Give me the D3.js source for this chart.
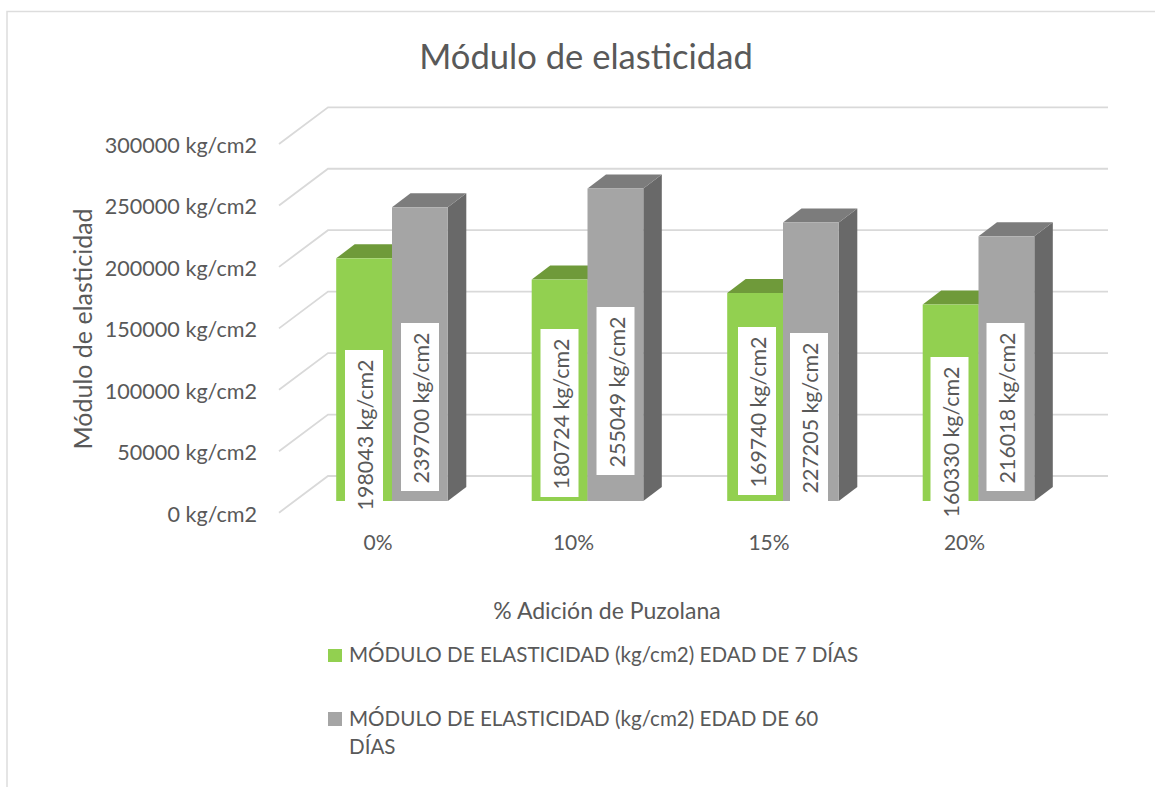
<!DOCTYPE html>
<html><head><meta charset="utf-8">
<script src="https://cdn.jsdelivr.net/npm/d3@7"></script>
<style>html,body{margin:0;padding:0;background:#fff}svg{display:block}text{font-family:Lato,"Open Sans",sans-serif}</style>
</head><body><div id="c"></div>
<script>
const categories = ["0%","10%","15%","20%"];
const seriesNames = ["MÓDULO DE ELASTICIDAD (kg/cm2) EDAD DE 7 DÍAS","MÓDULO DE ELASTICIDAD (kg/cm2) EDAD DE 60 DÍAS"];
const age7 = [198043,180724,169740,160330];
const age60 = [239700,255049,227205,216018];
const yTicks = [0,50000,100000,150000,200000,250000,300000];
// manual data-label box tops (layout, px)
const labelTop7 = [350,329,327,357];
const labelTop60 = [323,307,333,323];

const W=1155,H=787, textCol="#595959";
const svg=d3.select("#c").append("svg").attr("width",W).attr("height",H);

// chart frame
svg.append("path").attr("d","M7 787V11.5H1155").attr("fill","none").attr("stroke","#DDDDDD").attr("stroke-width",1.5);

const x=d3.scaleBand().domain(categories).range([294.25,1076.25]);
const barW=55.8;
const yBack=d3.scaleLinear().domain([0,300000]).range([476,107.3]);
const yWall=d3.scaleLinear().domain([0,300000]).range([512.7,144]);
const yBar=d3.scaleLinear().domain([0,300000]).range([501,133.4]);
const dxB=18.5, dyB=14;

// gridlines
const grid=svg.append("g").attr("fill","none").attr("stroke","#D9D9D9").attr("stroke-width",1.8);
yTicks.forEach(t=>{
  grid.append("path").attr("d",`M279 ${yWall(t)}L328 ${yBack(t)}H1108`);
});

// axis tick labels
const ax=svg.append("g").attr("transform","translate(257,1.5)").call(d3.axisLeft(yWall).tickValues(yTicks).tickSize(0).tickPadding(0).tickFormat(d=>d+" kg/cm2"));
ax.select(".domain").remove();
ax.selectAll("text").attr("fill",textCol).style("font-size","21.6px").style("font-family","Lato");

function bar(g,v,x0,front,top,side){
  const y=yBar(v), b=yBar(0), x1=x0+barW;
  g.append("path").attr("fill",side).attr("d",`M${x1} ${y}L${x1+dxB} ${y-dyB}V${b-dyB}L${x1} ${b}Z`);
  g.append("path").attr("fill",top).attr("d",`M${x0} ${y}L${x0+dxB} ${y-dyB}H${x1+dxB}L${x1} ${y}Z`);
  g.append("rect").attr("x",x0).attr("y",y).attr("width",barW).attr("height",b-y).attr("fill",front);
}
const bars=svg.append("g");
categories.forEach((c,i)=>{
  const g=bars.append("g"), m=x(c)+x.bandwidth()/2;
  bar(g,age7[i],m-barW,"#92D050","#6F9A3A","#6C9A38");
  bar(g,age60[i],m,"#A5A5A5","#7C7C7C","#696969");
});

// data labels
function label(v,cx,top){
  const g=svg.append("g");
  g.append("rect").attr("x",cx-19).attr("y",top).attr("width",38).attr("height",168).attr("fill","#fff");
  g.append("text").attr("transform",`translate(${cx+1},${top+85}) rotate(-90)`)
   .attr("text-anchor","middle").attr("dominant-baseline","central").attr("fill",textCol).style("font-size","21.4px").text(v+" kg/cm2");
}
categories.forEach((c,i)=>{
  const m=x(c)+x.bandwidth()/2;
  const off7=[-28,-28,-26,-29][i], off60=[28,28,26,27][i];
  label(age7[i],m+off7,labelTop7[i]);
  label(age60[i],m+off60,labelTop60[i]);
});

// category labels
categories.forEach(c=>{
  svg.append("text").attr("x",x(c)+x.bandwidth()/2-14).attr("y",550).attr("text-anchor","middle").attr("fill",textCol).style("font-size","21px").text(c);
});

// titles
svg.append("text").attr("x",586).attr("y",69).attr("text-anchor","middle").attr("fill",textCol).style("font-size","34.6px").text("Módulo de elasticidad");
svg.append("text").attr("transform","translate(92,329) rotate(-90)").attr("text-anchor","middle").attr("fill",textCol).style("font-size","25px").text("Módulo de elasticidad");
svg.append("text").attr("x",607).attr("y",619).attr("text-anchor","middle").attr("fill",textCol).style("font-size","23px").text("% Adición de Puzolana");

// legend
const lg=svg.append("g");
lg.append("rect").attr("x",328).attr("y",649).attr("width",14).attr("height",13).attr("fill","#92D050");
lg.append("text").attr("x",349).attr("y",662).attr("fill",textCol).style("font-size","20.6px").text(seriesNames[0]);
lg.append("rect").attr("x",328).attr("y",712).attr("width",14).attr("height",14).attr("fill","#A5A5A5");
lg.append("text").attr("x",349).attr("y",726).attr("fill",textCol).style("font-size","20.6px").text(seriesNames[1].replace(/ DÍAS$/,""));
lg.append("text").attr("x",349).attr("y",754).attr("fill",textCol).style("font-size","20.6px").text("DÍAS");
</script></body></html>
